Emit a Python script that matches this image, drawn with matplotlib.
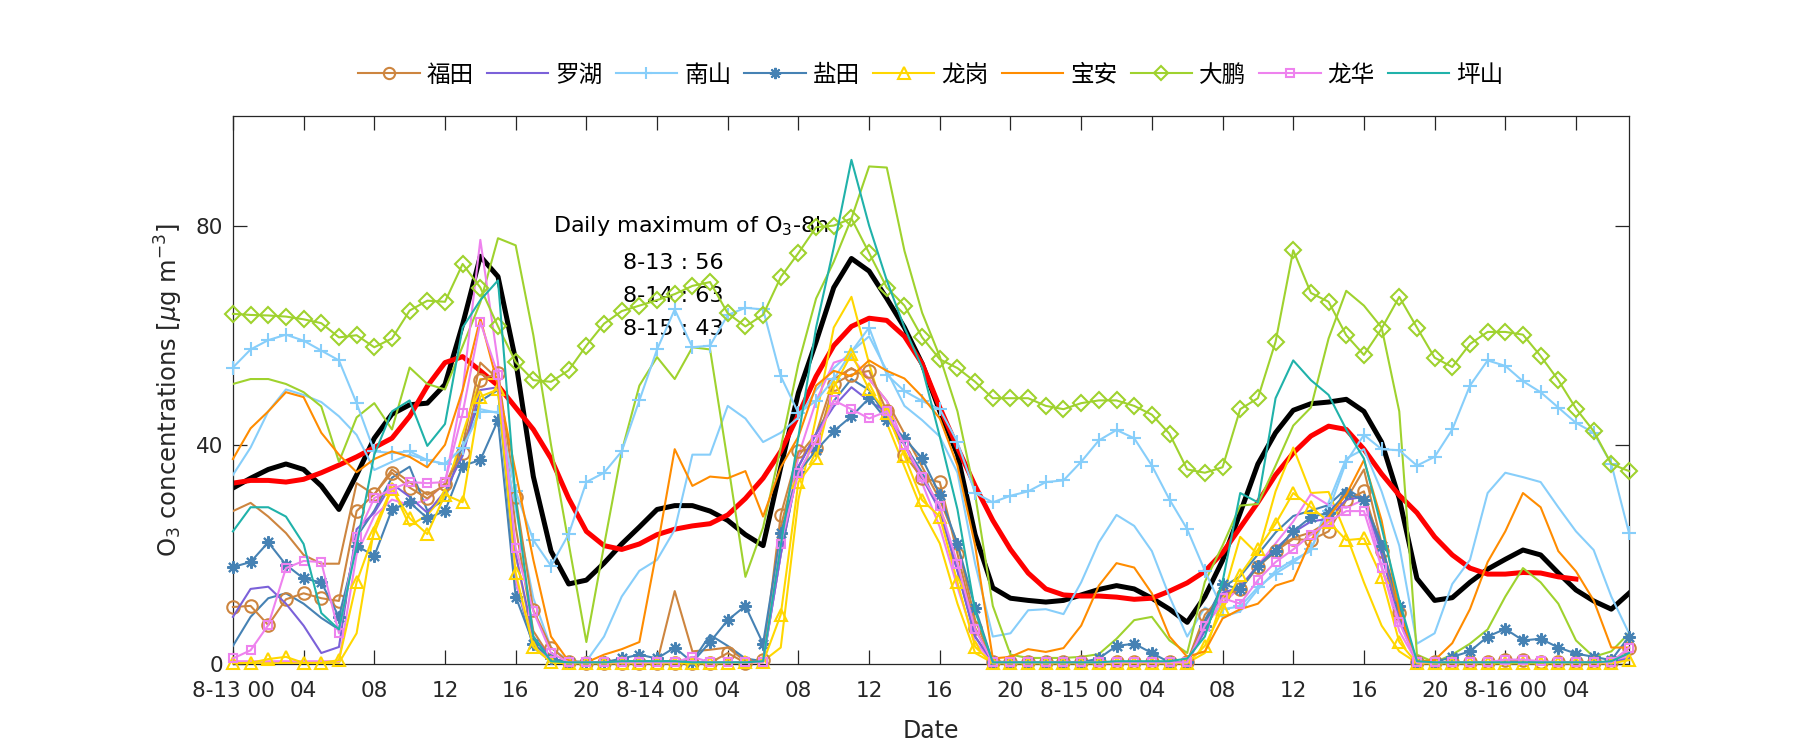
import numpy as np
import matplotlib
matplotlib.use('Agg')
import matplotlib.pyplot as plt

plt.rcParams['font.family'] = ['DejaVu Sans', 'Noto Sans CJK SC']
plt.rcParams['mathtext.fontset'] = 'dejavusans'

# hourly O3, 8-13 00 .. 8-16 07
hours = np.arange(80)
tick_labels = ['8-13 00', '04', '08', '12', '16', '20',
               '8-14 00', '04', '08', '12', '16', '20',
               '8-15 00', '04', '08', '12', '16', '20',
               '8-16 00', '04']
daily_max = [('8-13', 56), ('8-14', 63), ('8-15', 43)]

futian = [10.4, 10.6, 7.1, 11.8, 12.9, 12.0, 11.5, 27.9, 31.0, 34.9, 32.2, 30.2, 32.9,
          38.5, 51.8, 53.1, 30.5, 9.8, 3.0, 0.3, 0.2, 0.2, 0.2, 0.2, 0.2, 0.2,
          0.2, 0.2, 2.0, 0.2, 0.7, 27.2, 38.8, 39.5, 51.1, 52.8, 53.5, 46.1, 38.2, 33.9,
          33.2, 20.1, 6.6, 0.3, 0.3, 0.3, 0.3, 0.3, 0.3, 0.3, 0.3, 0.3, 0.3,
          0.3, 0.3, 9.0, 12.6, 13.6, 17.7, 20.6, 22.8, 22.6, 24.2, 29.9, 31.5, 20.6, 9.3,
          0.3, 0.3, 0.3, 0.3, 0.3, 0.7, 0.7, 0.3, 0.3, 0.3, 0.3, 0.3, 2.9]
luohu = [8.6, 13.7, 14.1, 11.0, 7.0, 2.0, 3.1, 24.6, 27.6, 32.9, 30.5, 27.6, 31.5,
         38.0, 50.0, 50.5, 20.0, 5.0, 1.0, 0.3, 0.3, 0.3, 0.3, 0.3, 0.3, 0.3,
         0.3, 0.3, 0.3, 0.3, 0.5, 20.0, 36.0, 42.0, 47.0, 50.5, 48.0, 46.0, 40.0, 34.0,
         28.0, 17.0, 5.0, 0.3, 0.3, 0.3, 0.3, 0.3, 0.3, 0.3, 0.3, 0.3, 0.3,
         0.3, 0.3, 6.0, 13.0, 14.0, 18.0, 21.0, 24.0, 26.0, 26.5, 30.0, 30.5, 20.0, 8.0,
         0.3, 0.3, 0.3, 0.3, 0.3, 0.3, 0.3, 0.3, 0.3, 0.3, 0.3, 0.3, 1.0]
nanshan = [54.1, 57.4, 59.1, 60.1, 59.0, 57.2, 55.4, 47.6, 38.8, 38.5, 38.8, 37.2, 36.5,
           39.5, 46.0, 46.0, 31.5, 22.6, 17.9, 23.7, 33.2, 34.9, 38.8, 48.1, 57.4, 64.7,
           57.8, 58.1, 63.7, 65.0, 64.7, 52.5, 45.8, 48.0, 52.0, 57.0, 61.4, 52.8, 49.8, 48.0,
           46.5, 40.5, 31.2, 29.5, 30.7, 31.5, 33.2, 33.5, 36.9, 40.8, 42.7, 41.2, 36.2,
           30.0, 24.6, 17.0, 10.0, 10.5, 14.0, 16.5, 18.5, 21.0, 28.0, 36.9, 41.8, 39.2, 39.0,
           36.2, 37.8, 42.8, 50.8, 55.4, 54.4, 51.6, 49.6, 46.8, 44.0, 42.2, 36.5, 23.9]
yantian = [17.7, 18.6, 22.2, 18.1, 15.6, 14.9, 8.6, 21.6, 19.7, 28.2, 29.5, 26.6, 27.9,
           36.2, 37.2, 44.5, 12.3, 3.7, 1.0, 0.3, 0.3, 0.3, 1.0, 1.7, 1.0, 3.0,
           0.3, 4.0, 8.0, 10.6, 3.7, 23.9, 35.0, 39.0, 42.5, 45.2, 48.5, 44.5, 41.2, 37.5,
           30.9, 21.9, 10.3, 0.3, 0.3, 0.3, 0.3, 0.3, 0.3, 1.0, 3.3, 3.7, 2.0,
           0.3, 0.3, 7.0, 14.6, 13.6, 17.9, 20.6, 24.2, 26.8, 27.6, 31.2, 29.9, 21.6, 10.6,
           0.3, 0.3, 1.3, 2.3, 5.0, 6.4, 4.3, 4.6, 3.0, 1.9, 1.3, 0.7, 5.0]
longgang = [0.1, 0.2, 0.9, 1.3, 0.2, 0.2, 0.7, 14.9, 23.9, 32.0, 26.6, 23.7, 30.9,
            29.5, 48.8, 50.1, 16.6, 3.1, 0.3, 0.1, 0.1, 0.1, 0.1, 0.1, 0.1, 0.1,
            0.1, 0.1, 0.1, 0.3, 0.3, 9.0, 33.2, 37.5, 50.5, 56.6, 50.1, 45.8, 38.0, 29.9,
            26.9, 14.9, 3.1, 0.1, 0.1, 0.1, 0.1, 0.1, 0.1, 0.1, 0.1, 0.1, 0.1,
            0.1, 0.1, 3.3, 10.0, 16.3, 20.9, 25.6, 31.2, 28.6, 26.0, 22.6, 22.9, 15.9, 4.0,
            0.1, 0.1, 0.1, 0.1, 0.1, 0.1, 0.1, 0.1, 0.1, 0.1, 0.1, 0.1, 0.7]
baoan = [37.4, 43.0, 46.1, 49.6, 48.7, 42.2, 38.2, 35.0, 37.4, 38.8, 37.8, 35.9, 40.0,
         50.0, 63.1, 50.8, 35.0, 19.0, 5.0, 0.5, 0.3, 1.7, 2.7, 4.0, 21.0, 39.2,
         32.5, 34.2, 33.9, 35.2, 26.9, 35.9, 41.5, 50.8, 53.5, 52.5, 55.4, 53.5, 52.1, 48.8,
         44.8, 36.2, 21.6, 1.0, 1.3, 2.7, 2.2, 2.9, 7.0, 14.3, 18.4, 17.6, 12.9,
         5.0, 1.3, 2.3, 8.3, 10.0, 11.0, 14.3, 15.3, 22.6, 26.9, 30.9, 37.2, 26.2, 9.6,
         0.5, 0.7, 3.8, 10.0, 18.6, 24.2, 31.2, 28.6, 20.6, 16.9, 11.6, 3.0, 3.0]
dapeng = [63.9, 63.7, 63.6, 63.4, 62.9, 62.2, 59.6, 60.0, 57.8, 59.4, 64.5, 66.3, 66.1,
          73.0, 68.7, 61.6, 55.1, 51.8, 51.5, 53.6, 58.1, 62.1, 64.4, 65.4, 66.4, 67.5,
          69.0, 69.7, 64.0, 61.6, 63.7, 70.6, 75.0, 79.7, 80.0, 81.3, 75.0, 68.7, 65.4, 59.6,
          55.6, 54.0, 51.5, 48.5, 48.5, 48.5, 47.1, 46.5, 47.6, 48.1, 48.1, 47.1, 45.5,
          42.0, 35.5, 34.9, 35.9, 46.5, 48.5, 58.8, 75.5, 67.7, 66.1, 60.0, 56.4, 61.2, 67.0,
          61.4, 55.9, 54.2, 58.4, 60.6, 60.6, 60.1, 56.2, 51.8, 46.6, 42.5, 36.5, 35.2]
longhua = [1.0, 2.5, 7.1, 17.5, 18.8, 18.6, 5.6, 23.2, 30.3, 31.9, 33.2, 33.0, 33.2,
           45.8, 62.4, 52.8, 21.2, 9.6, 2.0, 0.3, 0.3, 0.3, 0.3, 0.3, 0.3, 0.3,
           1.3, 0.3, 0.3, 0.3, 0.3, 21.9, 34.9, 40.8, 48.1, 46.5, 44.8, 46.1, 40.0, 34.2,
           28.9, 18.3, 6.3, 0.3, 0.3, 0.3, 0.3, 0.3, 0.3, 0.3, 0.3, 0.3, 0.3,
           0.3, 0.3, 7.0, 12.0, 11.0, 15.3, 18.6, 20.9, 23.6, 25.9, 27.9, 27.9, 17.6, 7.6,
           0.3, 0.3, 0.3, 0.3, 0.3, 0.8, 0.8, 0.5, 0.3, 0.3, 0.3, 0.3, 3.0]
pingshan = [24.2, 28.6, 28.6, 26.9, 21.9, 9.3, 6.3, 21.6, 38.2, 46.1, 48.1, 39.8, 43.8,
            61.4, 66.4, 70.0, 30.0, 5.0, 0.5, 0.3, 0.3, 0.3, 0.5, 0.5, 0.5, 0.5,
            0.3, 0.3, 0.3, 0.3, 0.5, 21.6, 41.5, 61.4, 76.0, 92.0, 80.0, 70.0, 61.4, 54.1,
            41.5, 28.2, 9.6, 0.3, 0.3, 0.3, 0.3, 0.3, 0.3, 0.3, 0.5, 0.5, 0.5,
            0.5, 1.0, 5.0, 15.0, 31.2, 29.5, 48.5, 55.4, 51.8, 49.1, 42.8, 37.5, 24.9, 11.6,
            0.5, 0.3, 0.3, 0.3, 0.3, 0.3, 0.3, 0.3, 0.3, 0.3, 0.3, 0.5, 2.0]

# second (unmarked) curves of some stations
dapeng2 = [51.1, 52.0, 52.0, 51.1, 49.6, 47.0, 36.9, 45.0, 47.6, 42.8, 54.1, 51.1, 50.1,
           58.0, 66.0, 77.7, 76.4, 60.0, 40.0, 22.0, 4.0, 21.6, 38.8, 50.8, 56.0, 52.0,
           57.8, 57.4, 36.9, 15.9, 24.9, 39.5, 54.8, 66.7, 73.4, 81.3, 90.8, 90.6, 75.4, 64.1,
           56.1, 46.1, 30.9, 10.6, 1.7, 1.1, 1.1, 1.1, 1.3, 1.8, 4.6, 8.0, 8.6,
           4.3, 2.0, 15.0, 21.6, 28.9, 29.2, 36.2, 43.5, 46.8, 59.4, 68.1, 65.4, 61.4, 46.1,
           1.7, 0.3, 1.7, 3.7, 6.3, 12.3, 17.5, 14.9, 11.0, 4.3, 1.3, 2.3, 5.6]
nanshan2 = [34.5, 39.5, 46.1, 50.1, 49.1, 47.8, 45.2, 41.8, 35.4, 36.9, 38.2, 37.2, 36.5,
            39.5, 46.5, 45.8, 28.2, 12.0, 3.0, 0.5, 0.5, 5.0, 12.3, 17.0, 19.0, 24.5,
            38.2, 38.2, 47.1, 44.8, 40.5, 42.2, 45.0, 50.0, 54.0, 57.0, 59.8, 53.5, 47.1, 44.5,
            41.5, 34.9, 18.3, 5.0, 5.6, 9.8, 10.0, 9.1, 14.9, 22.2, 27.2, 25.2, 20.6,
            12.3, 5.0, 10.3, 8.6, 9.6, 13.6, 17.0, 19.0, 20.6, 29.5, 37.5, 39.2, 31.5, 21.6,
            3.7, 5.6, 14.6, 19.0, 31.2, 34.9, 34.1, 33.2, 28.6, 24.2, 20.8, 12.3, 5.6]
futian2 = [27.9, 29.4, 26.9, 23.9, 19.9, 18.3, 18.3, 33.0, 30.9, 35.5, 33.2, 30.9, 32.5,
           40.0, 55.0, 52.0, 25.0, 6.0, 1.0, 0.3, 0.3, 0.3, 0.3, 0.3, 0.3, 13.3,
           2.3, 2.6, 3.0, 0.5, 0.5, 25.0, 38.0, 42.0, 52.0, 54.0, 52.0, 48.0, 42.0, 36.0,
           30.0, 22.0, 8.0, 0.5, 0.3, 0.3, 0.3, 0.3, 0.3, 0.3, 0.3, 0.3, 0.3,
           0.3, 0.3, 8.0, 12.0, 14.0, 18.0, 21.0, 23.0, 24.0, 26.0, 30.0, 35.5, 22.0, 8.0,
           0.3, 0.3, 0.3, 0.3, 0.3, 0.3, 0.3, 0.3, 0.3, 0.3, 0.3, 0.3, 2.0]
yantian2 = [3.3, 8.6, 12.0, 12.9, 11.0, 8.4, 6.3, 23.2, 28.0, 34.0, 36.0, 28.0, 30.0,
            40.0, 48.0, 50.0, 15.0, 3.0, 0.5, 0.3, 0.3, 0.3, 0.5, 0.5, 0.5, 0.5,
            0.5, 5.3, 3.3, 1.0, 0.5, 20.0, 36.0, 42.0, 48.0, 52.0, 50.0, 45.0, 40.0, 35.0,
            28.0, 17.0, 5.0, 0.3, 0.3, 0.3, 0.3, 0.3, 0.3, 0.3, 0.3, 0.3, 0.3,
            0.3, 0.3, 8.0, 14.0, 16.0, 20.0, 24.0, 27.0, 28.0, 29.0, 32.0, 30.0, 22.0, 9.0,
            0.3, 0.3, 0.3, 0.3, 0.3, 0.3, 0.3, 0.3, 0.3, 0.3, 0.3, 0.3, 1.5]
longgang2 = [0.2, 0.2, 0.2, 0.2, 0.2, 0.2, 0.2, 5.6, 24.9, 32.2, 25.2, 27.2, 31.0,
             42.0, 52.0, 52.0, 20.0, 4.0, 0.3, 0.2, 0.2, 0.2, 0.2, 0.2, 0.2, 0.2,
             0.2, 0.2, 0.2, 0.2, 0.5, 3.0, 30.0, 45.0, 61.4, 67.0, 54.8, 44.0, 36.0, 28.0,
             22.0, 11.0, 2.0, 0.2, 0.2, 0.2, 0.2, 0.2, 0.2, 0.2, 0.2, 0.2, 0.2,
             0.2, 0.2, 2.0, 12.0, 23.2, 20.0, 31.5, 39.5, 31.2, 31.4, 23.6, 14.9, 7.0, 2.3,
             0.2, 0.2, 0.2, 0.2, 0.2, 0.2, 0.2, 0.2, 0.2, 0.2, 0.2, 0.2, 1.0]
longhua2 = [0.5, 0.5, 0.5, 0.5, 0.5, 0.5, 0.5, 20.0, 27.0, 30.0, 29.0, 30.0, 33.0,
            50.0, 77.4, 55.0, 15.0, 4.0, 0.5, 0.3, 0.3, 0.3, 0.3, 0.3, 0.3, 0.3,
            0.3, 0.3, 0.3, 0.3, 0.3, 20.0, 38.0, 48.0, 55.0, 56.0, 52.0, 48.0, 40.0, 33.0,
            25.0, 14.0, 4.0, 0.3, 0.3, 0.3, 0.3, 0.3, 0.3, 0.3, 0.3, 0.3, 0.3,
            0.3, 0.3, 7.0, 11.0, 14.0, 18.0, 22.0, 26.0, 31.0, 29.0, 28.5, 30.0, 18.0, 6.0,
            0.3, 0.3, 0.3, 0.3, 0.3, 0.3, 0.3, 0.3, 0.3, 0.3, 0.3, 0.3, 1.5]

# regional mean (black) and its 8-h running mean (red, ends at 8-16 04)
mean_o3 = [32.1, 33.9, 35.5, 36.5, 35.5, 32.5, 28.2, 34.5, 41.2, 45.6, 47.3, 47.6, 51.0,
           62.0, 74.4, 70.7, 55.4, 34.2, 20.6, 14.6, 15.3, 18.4, 21.9, 25.0, 28.2, 28.9,
           28.9, 27.9, 26.2, 23.6, 21.6, 35.9, 49.5, 58.8, 68.7, 74.0, 71.7, 66.7, 61.4, 54.8,
           46.1, 38.2, 23.6, 13.9, 12.0, 11.6, 11.3, 11.6, 12.6, 13.6, 14.3, 13.7, 12.0,
           10.0, 7.6, 12.3, 18.9, 27.6, 36.5, 42.2, 46.3, 47.5, 47.8, 48.3, 46.1, 40.5, 30.2,
           15.6, 11.6, 12.1, 14.9, 17.3, 19.1, 20.8, 19.9, 16.6, 13.5, 11.5, 10.0, 12.9]
mean_8h = [33.0, 33.5, 33.5, 33.2, 33.7, 34.9, 36.3, 37.8, 39.5, 41.2, 45.2, 50.7, 55.0,
           56.1, 53.5, 50.8, 46.8, 42.8, 37.5, 30.2, 24.2, 21.6, 20.9, 21.9, 23.6, 24.6,
           25.2, 25.6, 27.2, 30.2, 33.9, 38.8, 45.5, 52.5, 58.1, 61.6, 63.1, 62.7, 59.8, 54.8,
           46.8, 39.5, 32.5, 26.2, 20.9, 16.6, 13.7, 12.6, 12.4, 12.4, 12.2, 11.8, 12.0,
           13.3, 14.8, 16.9, 20.3, 24.9, 29.5, 34.5, 38.5, 41.6, 43.4, 42.8, 39.2, 34.7, 30.8,
           27.6, 23.2, 19.9, 17.5, 16.4, 16.4, 16.7, 16.6, 15.9, 15.5]

names = ['福田', '罗湖', '南山', '盐田', '龙岗', '宝安', '大鹏', '龙华', '坪山']
series = [futian, luohu, nanshan, yantian, longgang, baoan, dapeng, longhua, pingshan]
colors = ['#CD853F', '#7B61D9', '#87CEFA', '#4682B4', '#FFD700',
          '#FF8C00', '#9FD22E', '#EE82EE', '#20B2AA']
markers = ['o', None, '+', (8, 2, 0), '^', None, 'D', 's', None]
msizes = [9, 0, 10, 9, 9, 0, 8, 6, 0]

extra = [(futian2, 0), (nanshan2, 2), (yantian2, 3), (longgang2, 4),
         (dapeng2, 6), (longhua2, 7)]

fig = plt.figure(figsize=(18, 7.5), dpi=100)
ax = fig.add_axes([0.1294, 0.1147, 0.7756, 0.7306])

ax.plot(hours, mean_o3, color='black', lw=3.6, zorder=2)
ax.plot(hours[:len(mean_8h)], mean_8h, color='red', lw=3.6, zorder=2)

for vals, k in extra:
    ax.plot(hours, vals, color=colors[k], lw=1.5, zorder=3)

for vals, name, c, m, ms in zip(series, names, colors, markers, msizes):
    ax.plot(hours, vals, color=c, lw=1.5, marker=m, markersize=ms,
            markerfacecolor='none', markeredgecolor=c, markeredgewidth=1.5,
            label=name, zorder=4, clip_on=False)

ax.set_xlim(0, 79)
ax.set_ylim(0, 100)
ax.set_xticks(hours[::4])
ax.set_xticklabels(tick_labels)
ax.set_yticks([0, 40, 80])

for sp in ax.spines.values():
    sp.set_color('#262626')
    sp.set_linewidth(0.9)
ax.tick_params(direction='in', length=10, width=0.9, colors='#262626',
               labelsize=15.5, top=True, right=True)
ax.tick_params(axis='x', pad=12)
ax.tick_params(axis='y', pad=7)

ax.set_xlabel('Date', fontsize=17, color='#262626', labelpad=13)
ax.set_ylabel(r'O$_3$ concentrations [$\mu$g m$^{-3}$]', fontsize=17.5,
              color='#262626', labelpad=8)

ax.text(18.1, 80, 'Daily maximum of O$_3$-8h', fontsize=16, va='center', ha='left')
for i, (day, v) in enumerate(daily_max):
    ax.text(22.05, 73.2 - 6.0 * i, '%s : %d' % (day, v), fontsize=16,
            va='center', ha='left')

ax.legend(loc='lower center', bbox_to_anchor=(0.5, 1.015), ncol=9, frameon=False,
          fontsize=17, handlelength=2.6, handletextpad=0.3, columnspacing=0.55,
          markerscale=0.9)

fig.savefig('out.png', dpi=100)
